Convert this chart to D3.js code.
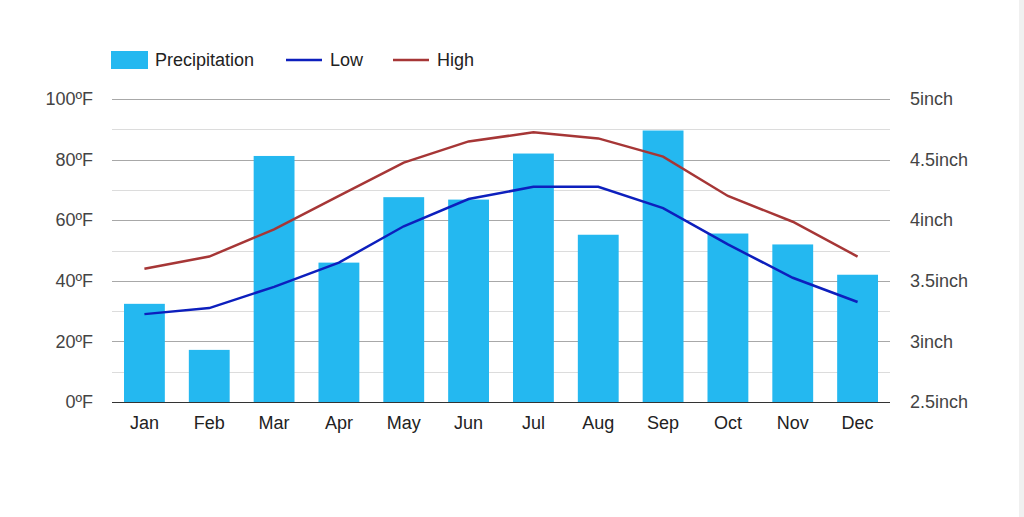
<!DOCTYPE html>
<html>
<head>
<meta charset="utf-8">
<script src="https://cdn.jsdelivr.net/npm/d3@7"></script>
<style>
  body { margin: 0; background: #fff; }
  svg { font-family: "Liberation Sans", Arial, sans-serif; display: block; }
</style>
</head>
<body>
<svg id="chart"></svg>
<script>
var width = 1024;
var height = 517;

var months = ["Jan", "Feb", "Mar", "Apr", "May", "Jun", "Jul", "Aug", "Sep", "Oct", "Nov", "Dec"];
var precipitation = [3.31, 2.93, 4.53, 3.65, 4.19, 4.17, 4.55, 3.88, 4.74, 3.89, 3.80, 3.55];
var low = [29, 31, 38, 46, 58, 67, 71, 71, 64, 52, 41, 33];
var high = [44, 48, 57, 68, 79, 86, 89, 87, 81, 68, 59.5, 48];
var tempTicks = [0, 20, 40, 60, 80, 100];
var rainTicks = [2.5, 3, 3.5, 4, 4.5, 5];

var plotLeft = 112, plotRight = 890, plotTop = 99, plotBottom = 402;

var svg = d3.select("#chart")
    .attr("width", width)
    .attr("height", height);

// light strip along the right edge of the page
svg.append("rect")
    .attr("x", 1019)
    .attr("y", 0)
    .attr("width", 5)
    .attr("height", height)
    .attr("fill", "#f0f0f0");

var xScale = d3.scaleBand()
    .domain(months)
    .range([plotLeft, plotRight])
    .paddingInner(0.37)
    .paddingOuter(0.185);

var yTemp = d3.scaleLinear()
    .domain([0, 100])
    .range([plotBottom, plotTop]);

var yRain = d3.scaleLinear()
    .domain([2.5, 5])
    .range([plotBottom, plotTop]);

// grid: light minor lines every 10, darker every 20
svg.append("g")
  .selectAll("line")
  .data(d3.range(10, 101, 10))
  .enter()
  .append("line")
    .attr("x1", plotLeft)
    .attr("x2", plotRight)
    .attr("y1", d => Math.round(yTemp(d)) + 0.5)
    .attr("y2", d => Math.round(yTemp(d)) + 0.5)
    .attr("stroke", d => d % 20 === 0 ? "#a8a8a8" : "#dcdcdc")
    .attr("stroke-width", 1);

// bars
svg.append("g")
  .selectAll("rect")
  .data(precipitation)
  .enter()
  .append("rect")
    .attr("x", (d, i) => xScale(months[i]))
    .attr("y", d => yRain(d))
    .attr("width", xScale.bandwidth())
    .attr("height", d => plotBottom - yRain(d))
    .attr("fill", "#24b8f0");

// baseline
svg.append("line")
    .attr("x1", plotLeft)
    .attr("x2", plotRight)
    .attr("y1", plotBottom + 0.5)
    .attr("y2", plotBottom + 0.5)
    .attr("stroke", "#333")
    .attr("stroke-width", 1);

var line = d3.line()
    .x((d, i) => xScale(months[i]) + xScale.bandwidth() / 2)
    .y(d => yTemp(d));

svg.append("path")
    .datum(high)
    .attr("d", line)
    .attr("fill", "none")
    .attr("stroke", "#a63636")
    .attr("stroke-width", 2.5);

svg.append("path")
    .datum(low)
    .attr("d", line)
    .attr("fill", "none")
    .attr("stroke", "#0d1fbd")
    .attr("stroke-width", 2.5);

// axes
var leftAxis = d3.axisLeft(yTemp)
    .tickValues(tempTicks)
    .tickSize(0)
    .tickPadding(19)
    .tickFormat(d => d + "\u00baF");

var rightAxis = d3.axisRight(yRain)
    .tickValues(rainTicks)
    .tickSize(0)
    .tickPadding(20)
    .tickFormat(d => d + "inch");

var xAxis = d3.axisBottom(xScale)
    .tickSize(0)
    .tickPadding(14);

svg.append("g")
    .attr("transform", "translate(" + plotLeft + ",0)")
    .call(leftAxis)
    .call(g => g.select(".domain").remove());

svg.append("g")
    .attr("transform", "translate(" + plotRight + ",0)")
    .call(rightAxis)
    .call(g => g.select(".domain").remove());

svg.append("g")
    .attr("class", "x-axis")
    .attr("transform", "translate(0," + plotBottom + ")")
    .call(xAxis)
    .call(g => g.select(".domain").remove());

svg.selectAll(".tick text")
    .style("font-family", "'Liberation Sans', Arial, sans-serif")
    .style("font-size", "18px")
    .attr("fill", "#444");

svg.selectAll(".x-axis .tick text")
    .attr("fill", "#222");

// legend
var legend = svg.append("g")
    .style("font-size", "18px");

legend.append("rect")
    .attr("x", 111)
    .attr("y", 51)
    .attr("width", 37)
    .attr("height", 18)
    .attr("fill", "#24b8f0");

legend.append("text")
    .attr("x", 155)
    .attr("y", 66)
    .attr("fill", "#222")
    .text("Precipitation");

legend.append("line")
    .attr("x1", 286).attr("x2", 322)
    .attr("y1", 60).attr("y2", 60)
    .attr("stroke", "#0d1fbd")
    .attr("stroke-width", 2.5);

legend.append("text")
    .attr("x", 330)
    .attr("y", 66)
    .attr("fill", "#222")
    .text("Low");

legend.append("line")
    .attr("x1", 393).attr("x2", 429)
    .attr("y1", 60).attr("y2", 60)
    .attr("stroke", "#a63636")
    .attr("stroke-width", 2.5);

legend.append("text")
    .attr("x", 437)
    .attr("y", 66)
    .attr("fill", "#222")
    .text("High");
</script>
</body>
</html>
